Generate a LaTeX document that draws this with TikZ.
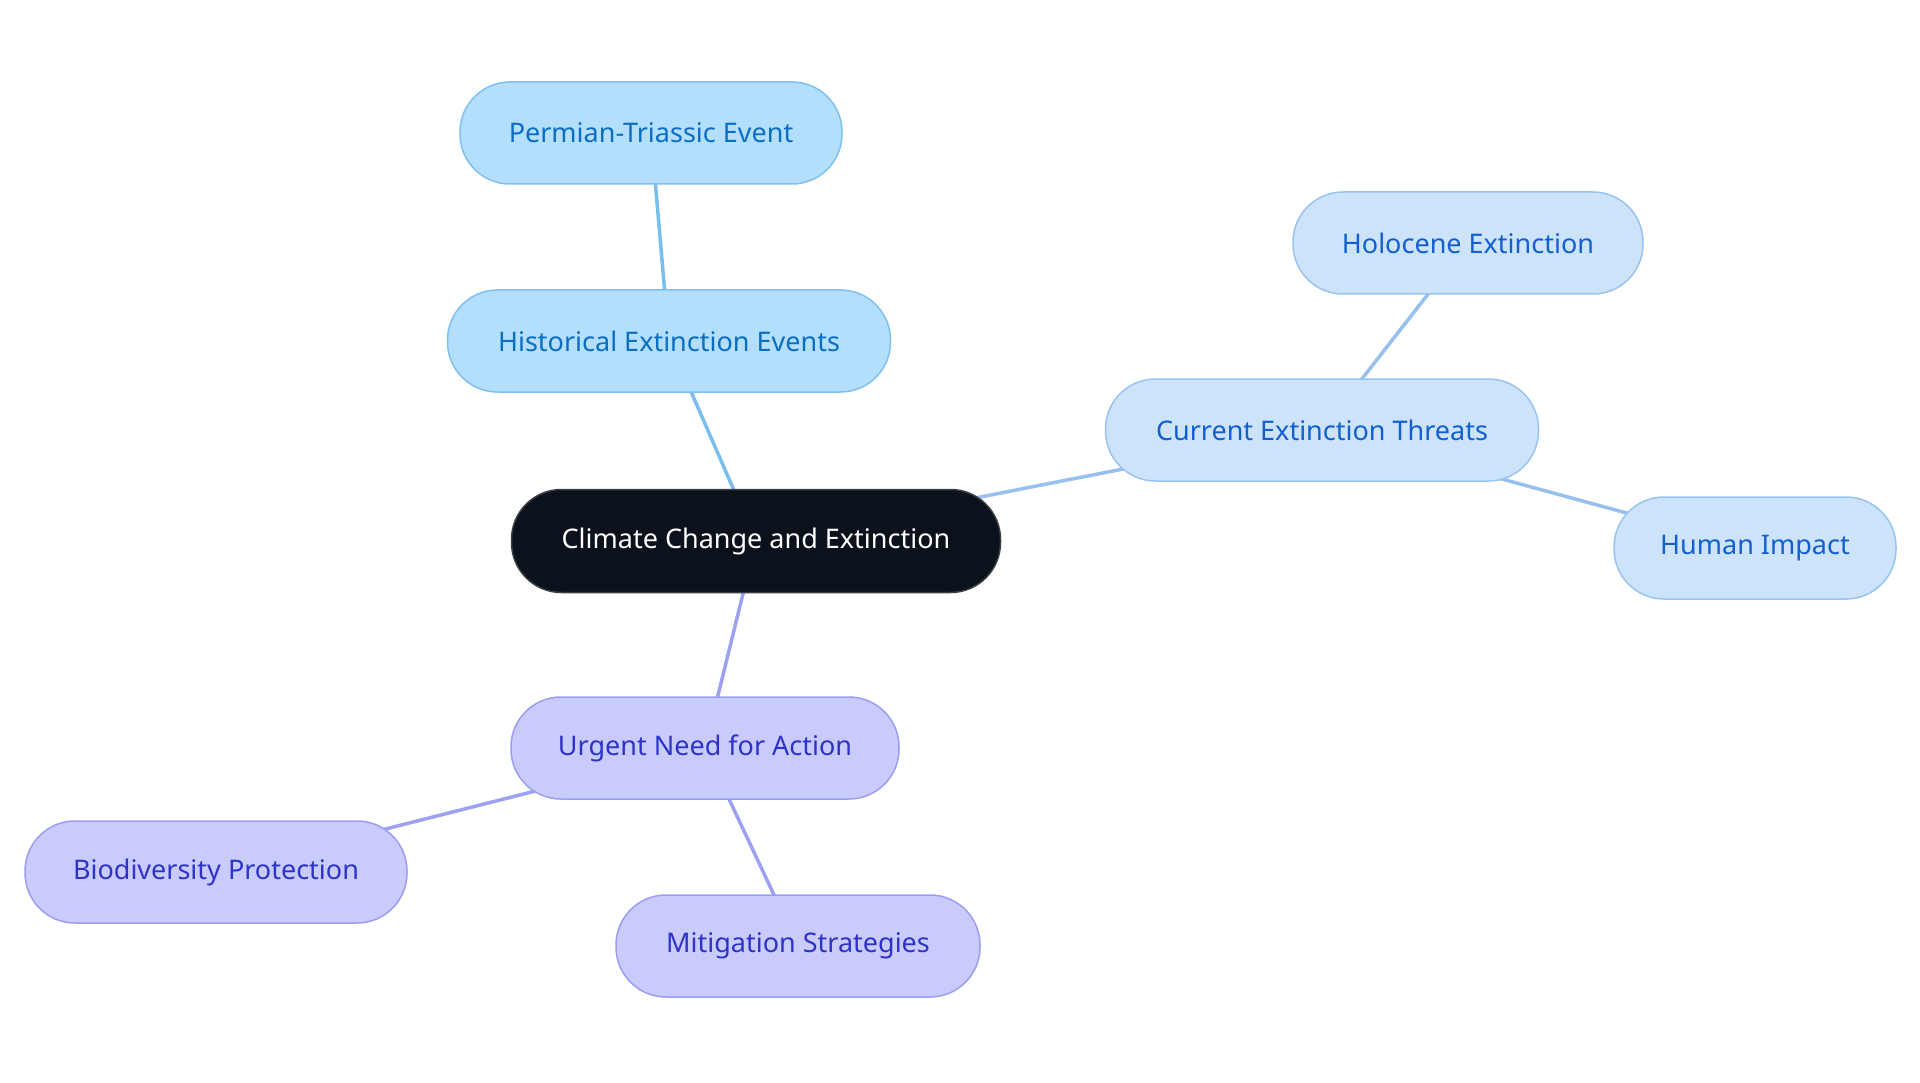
\documentclass[tikz,border=0pt]{standalone}
\usepackage{fontspec}
\setmainfont{Noto Sans}
\usetikzlibrary{backgrounds}
\definecolor{cfill}{HTML}{0C121C}
\definecolor{cdraw}{HTML}{3A3F47}
\definecolor{hfill}{HTML}{B3DFFD}
\definecolor{hdraw}{HTML}{7FC0F0}
\definecolor{htext}{HTML}{0A6EC2}
\definecolor{hline}{HTML}{7ABEEE}
\definecolor{qfill}{HTML}{CCE3FA}
\definecolor{qdraw}{HTML}{99C4F0}
\definecolor{qtext}{HTML}{125FCF}
\definecolor{qline}{HTML}{98C0EE}
\definecolor{ufill}{HTML}{C9CBFD}
\definecolor{udraw}{HTML}{9A9EF2}
\definecolor{utext}{HTML}{2E33C8}
\definecolor{uline}{HTML}{9DA1F2}
\tikzset{
  pill/.style={rectangle, rounded corners=50pt, minimum height=102pt, line width=1.5pt, inner sep=0pt, font=\fontsize{27}{32}\selectfont},
  central/.style={pill, fill=cfill, draw=cdraw, text=white, minimum height=103pt},
  hist/.style={pill, fill=hfill, draw=hdraw, text=htext},
  cur/.style={pill, fill=qfill, draw=qdraw, text=qtext},
  urg/.style={pill, fill=ufill, draw=udraw, text=utext},
  edge/.style={line width=3.5pt}
}
\begin{document}
\begin{tikzpicture}[x=1pt,y=-1pt]
\useasboundingbox (0,0) rectangle (1920,1083);
\node[central, minimum width=489pt] (c) at (756,541) {Climate Change and Extinction};
\node[hist, minimum width=443pt] (h) at (669,341) {Historical Extinction Events};
\node[hist, minimum width=382pt] (p) at (651,133) {Permian-Triassic Event};
\node[cur, minimum width=433pt] (t) at (1322,430) {Current Extinction Threats};
\node[cur, minimum width=350pt] (o) at (1468,243) {Holocene Extinction};
\node[cur, minimum width=282pt] (m) at (1755,548) {Human Impact};
\node[urg, minimum width=388pt] (u) at (705,748) {Urgent Need for Action};
\node[urg, minimum width=382pt] (b) at (216,872) {Biodiversity Protection};
\node[urg, minimum width=364pt] (g) at (798,946) {Mitigation Strategies};
\begin{scope}[on background layer]
\draw[edge, hline] (c.center) -- (h.center);
\draw[edge, hline] (h.center) -- (p.center);
\draw[edge, qline] (c.center) -- (t.center);
\draw[edge, qline] (t.center) -- (o.center);
\draw[edge, qline] (t.center) -- (m.center);
\draw[edge, uline] (c.center) -- (u.center);
\draw[edge, uline] (u.center) -- (b.center);
\draw[edge, uline] (u.center) -- (g.center);
\end{scope}
\end{tikzpicture}
\end{document}
